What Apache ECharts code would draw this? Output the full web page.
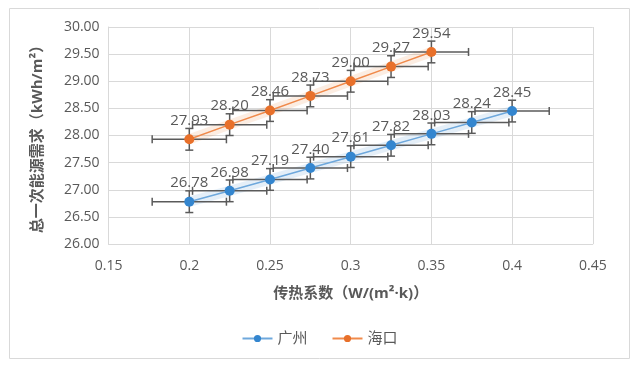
<!DOCTYPE html>
<html>
<head>
<meta charset="utf-8">
<script src="https://cdn.jsdelivr.net/npm/echarts@6/dist/echarts.min.js"></script>
<style>html,body{margin:0;padding:0;background:#fff;}#c{width:639px;height:368px;}</style>
</head>
<body>
<div id="c"></div>
<script>
const xGZ = [0.2, 0.225, 0.25, 0.275, 0.3, 0.325, 0.35, 0.375, 0.4];
const yGZ = [26.78, 26.98, 27.19, 27.40, 27.61, 27.82, 28.03, 28.24, 28.45];
const xHK = [0.2, 0.225, 0.25, 0.275, 0.3, 0.325, 0.35];
const yHK = [27.93, 28.20, 28.46, 28.73, 29.00, 29.27, 29.54];
const xErr = 0.023;
const yErr = 0.2;
const seriesNames = ['广州', '海口'];

const FONT = '"Open Sans", "Noto Sans CJK SC", sans-serif';
const TXT = '#595959';
const pairs = (xs, ys) => xs.map((x, i) => [x, ys[i]]);
const gz = pairs(xGZ, yGZ), hk = pairs(xHK, yHK);

function errRender(params, api) {
  const x = api.value(0), y = api.value(1);
  const l = api.coord([x - xErr, y]), r = api.coord([x + xErr, y]);
  const t = api.coord([x, y + yErr]), b = api.coord([x, y - yErr]);
  const cap = 4;
  const st = { stroke: '#5a5a5a', lineWidth: 1.5 };
  const ln = (x1, y1, x2, y2) => ({ type: 'line', shape: { x1, y1, x2, y2 }, style: st });
  return { type: 'group', children: [
    ln(l[0], l[1], r[0], r[1]),
    ln(l[0], l[1] - cap, l[0], l[1] + cap),
    ln(r[0], r[1] - cap, r[0], r[1] + cap),
    ln(t[0], t[1], b[0], b[1]),
    ln(t[0] - cap, t[1], t[0] + cap, t[1]),
    ln(b[0] - cap, b[1], b[0] + cap, b[1])
  ]};
}

const chart = echarts.init(document.getElementById('c'));
chart.setOption({
  animation: false,
  textStyle: { fontFamily: FONT },
  graphic: [{ type: 'rect', shape: { x: 9.5, y: 8.5, width: 620, height: 350 }, style: { fill: 'none', stroke: '#d9d9d9', lineWidth: 1 }, silent: true }],
  grid: { left: 108.6, right: 46.2, top: 27, bottom: 124 },
  legend: {
    data: seriesNames, bottom: 17, left: 'center', itemWidth: 30, itemHeight: 9, itemGap: 24,
    textStyle: { color: TXT, fontSize: 15, fontFamily: FONT }
  },
  xAxis: {
    type: 'value', min: 0.15, max: 0.45, interval: 0.05,
    name: '传热系数（W/(m²·k)）', nameLocation: 'middle', nameGap: 42,
    nameTextStyle: { color: TXT, fontSize: 15, fontWeight: 'bold', fontFamily: FONT },
    axisLine: { show: true, lineStyle: { color: '#d9d9d9' } },
    axisTick: { show: false },
    axisLabel: { color: TXT, fontSize: 14, margin: 15, formatter: v => String(parseFloat(v.toFixed(2))) },
    splitLine: { show: true, lineStyle: { color: '#d9d9d9' } }
  },
  yAxis: {
    type: 'value', min: 26, max: 30, interval: 0.5,
    name: '总一次能源需求（kWh/m²）', nameLocation: 'middle', nameGap: 63,
    nameTextStyle: { color: TXT, fontSize: 15, fontWeight: 'bold', fontFamily: FONT },
    axisLine: { show: true, lineStyle: { color: '#d9d9d9' } },
    axisTick: { show: false },
    axisLabel: { color: TXT, fontSize: 14, margin: 9, formatter: v => v.toFixed(2) },
    splitLine: { show: true, lineStyle: { color: '#d9d9d9' } }
  },
  series: [
    { name: 'band1', type: 'line', data: gz, symbol: 'none', silent: true, z: 1,
      lineStyle: { width: 10, color: 'rgba(91,155,213,0.16)' } },
    { name: 'band2', type: 'line', data: hk, symbol: 'none', silent: true, z: 1,
      lineStyle: { width: 10, color: 'rgba(237,125,49,0.14)' } },
    { type: 'custom', data: gz, renderItem: errRender, z: 2, silent: true },
    { type: 'custom', data: hk, renderItem: errRender, z: 2, silent: true },
    { name: seriesNames[0], type: 'line', data: gz, z: 3,
      symbol: 'circle', symbolSize: 10,
      lineStyle: { width: 1.5, color: '#6ea8dc' },
      itemStyle: { color: '#3486cf' },
      label: { show: true, position: 'top', distance: 6, color: TXT, fontSize: 15, fontFamily: FONT, formatter: p => p.value[1].toFixed(2) } },
    { name: seriesNames[1], type: 'line', data: hk, z: 3,
      symbol: 'circle', symbolSize: 10,
      lineStyle: { width: 1.5, color: '#f08a4b' },
      itemStyle: { color: '#e8702a' },
      label: { show: true, position: 'top', distance: 6, color: TXT, fontSize: 15, fontFamily: FONT, formatter: p => p.value[1].toFixed(2) } }
  ]
});
</script>
</body>
</html>
